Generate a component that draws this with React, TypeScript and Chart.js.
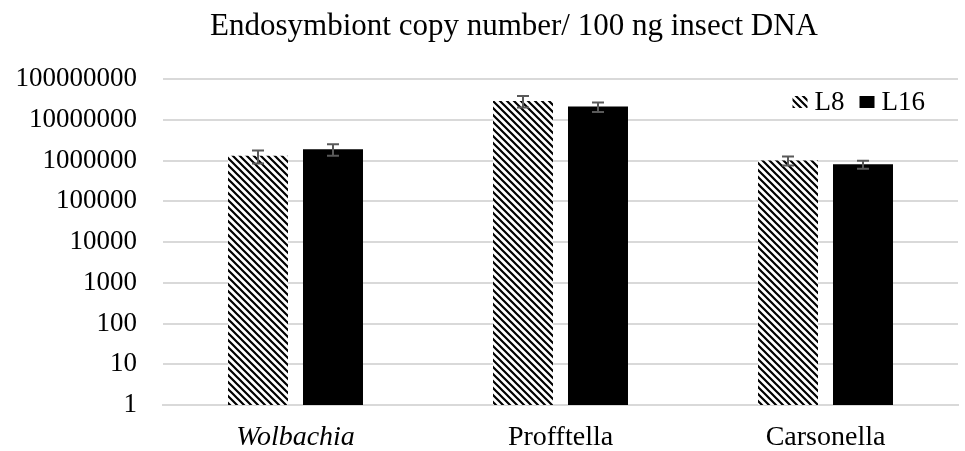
import React, { useEffect, useRef } from "react";
import { Chart, registerables } from "chart.js";

Chart.register(...registerables);

const categories = ["Wolbachia", "Profftella", "Carsonella"];
const seriesNames = ["L8", "L16"];
const l8Values = [1300000, 29000000, 1000000];
const l8Errors = [450000, 9000000, 250000];
const l16Values = [1900000, 21000000, 810000];
const l16Errors = [600000, 5500000, 180000];
const yTicks = [1, 10, 100, 1000, 10000, 100000, 1000000, 10000000, 100000000];
const titleText = "Endosymbiont copy number/ 100 ng insect DNA";

const FONT = "'Liberation Serif', 'Times New Roman', serif";

function makeHatch(): CanvasPattern | string {
  const c = document.createElement("canvas");
  c.width = 7;
  c.height = 7;
  const g = c.getContext("2d");
  if (!g) return "#555";
  g.fillStyle = "#ffffff";
  g.fillRect(0, 0, 7, 7);
  g.strokeStyle = "#000000";
  g.lineWidth = 2.2;
  g.beginPath();
  g.moveTo(-1, -1);
  g.lineTo(8, 8);
  g.moveTo(-8, -1);
  g.lineTo(1, 8);
  g.moveTo(6, -1);
  g.lineTo(15, 8);
  g.stroke();
  const p = g.createPattern(c, "repeat");
  return p || "#555";
}

const errorBarPlugin = {
  id: "errorBars",
  afterDatasetsDraw(chart: any) {
    const ctx = chart.ctx;
    const y = chart.scales.y;
    const errs = [l8Errors, l16Errors];
    ctx.save();
    ctx.strokeStyle = "#595959";
    ctx.lineWidth = 2;
    chart.data.datasets.forEach((ds: any, i: number) => {
      const meta = chart.getDatasetMeta(i);
      meta.data.forEach((el: any, j: number) => {
        const v = ds.data[j];
        const e = errs[i][j];
        const top = y.getPixelForValue(v + e);
        const bot = y.getPixelForValue(Math.max(v - e, 1));
        const x = el.x;
        const w = 6;
        ctx.beginPath();
        ctx.moveTo(x, top);
        ctx.lineTo(x, bot);
        ctx.moveTo(x - w, top);
        ctx.lineTo(x + w, top);
        ctx.moveTo(x - w, bot);
        ctx.lineTo(x + w, bot);
        ctx.stroke();
      });
    });
    ctx.restore();
  },
};

const titlePlugin = {
  id: "customTitle",
  afterDraw(chart: any) {
    const ctx = chart.ctx;
    ctx.save();
    ctx.font = `31px ${FONT}`;
    ctx.fillStyle = "#000";
    ctx.textAlign = "center";
    ctx.textBaseline = "alphabetic";
    ctx.fillText(titleText, 514, 35);
    ctx.restore();
  },
};

const legendPlugin = {
  id: "customLegend",
  afterDraw(chart: any) {
    const ctx = chart.ctx;
    const area = chart.chartArea;
    ctx.save();
    ctx.font = `27px ${FONT}`;
    ctx.textBaseline = "middle";
    ctx.fillStyle = "#000";
    const cy = area.top + 23;
    const items = chart.data.datasets.map((ds: any) => ({
      label: ds.label,
      fill: ds.backgroundColor,
    }));
    const boxW = 15;
    const boxH = 12;
    const gapBoxText = 7;
    const gapItems = 15;
    let total = 0;
    items.forEach((it: any, i: number) => {
      total += boxW + gapBoxText + ctx.measureText(it.label).width;
      if (i < items.length - 1) total += gapItems;
    });
    let x = area.right - 33 - total;
    items.forEach((it: any) => {
      ctx.fillStyle = it.fill;
      ctx.fillRect(x, cy - boxH / 2, boxW, boxH);
      x += boxW + gapBoxText;
      ctx.fillStyle = "#000";
      ctx.textAlign = "left";
      ctx.fillText(it.label, x, cy + 1);
      x += ctx.measureText(it.label).width + gapItems;
    });
    ctx.restore();
  },
};

export default function App() {
  const ref = useRef<HTMLCanvasElement | null>(null);
  useEffect(() => {
    document.body.style.margin = "0";
    if (!ref.current) return;
    const hatch = makeHatch();
    const chart = new Chart(ref.current, {
      type: "bar",
      data: {
        labels: categories,
        datasets: [
          {
            label: seriesNames[0],
            data: l8Values,
            backgroundColor: hatch as any,
            borderWidth: 0,
            barPercentage: 0.8,
            categoryPercentage: 0.566,
          },
          {
            label: seriesNames[1],
            data: l16Values,
            backgroundColor: "#000000",
            borderWidth: 0,
            barPercentage: 0.8,
            categoryPercentage: 0.566,
          },
        ],
      },
      options: {
        animation: false,
        responsive: false,
        maintainAspectRatio: false,
        layout: { padding: { left: 0, right: 7, top: 79, bottom: 0 } },
        plugins: {
          title: { display: false },
          legend: { display: false },
          tooltip: { enabled: false },
        },
        scales: {
          x: {
            grid: { display: false, drawTicks: false },
            border: { display: true, color: "#d9d9d9", width: 2 },
            afterFit: (axis: any) => {
              axis.height = 46;
            },
            ticks: {
              color: "#000",
              padding: 16,
              font: (c: any) => ({
                family: FONT,
                size: 28,
                style: c.index === 0 ? "italic" : "normal",
              }),
            },
          },
          y: {
            type: "logarithmic",
            min: 1,
            max: 100000000,
            afterBuildTicks: (axis: any) => {
              axis.ticks = yTicks.map((v) => ({ value: v }));
            },
            afterFit: (axis: any) => {
              axis.width = 163;
            },
            grid: { color: "#d9d9d9", lineWidth: 2, drawTicks: false },
            border: { display: false },
            ticks: {
              color: "#000",
              padding: 26,
              font: { family: FONT, size: 27 },
              callback: (v: any) => String(v),
            },
          },
        },
      },
      plugins: [errorBarPlugin, legendPlugin, titlePlugin],
    });
    return () => chart.destroy();
  }, []);
  return (
    <div style={{ width: 965, height: 451, background: "#fff" }}>
      <canvas ref={ref} width={965} height={451} style={{ display: "block" }} />
    </div>
  );
}
